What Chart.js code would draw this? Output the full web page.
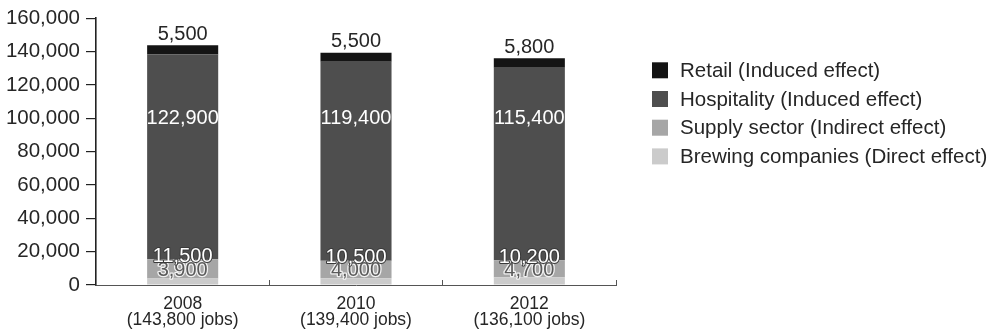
<!DOCTYPE html>
<html>
<head>
<meta charset="utf-8">
<title>Beer sector employment</title>
<script src="https://cdn.jsdelivr.net/npm/chart.js@4.4.1/dist/chart.umd.min.js"></script>
<style>
  html, body { margin: 0; padding: 0; background: #ffffff; }
  #wrap { width: 987px; height: 331px; }
</style>
</head>
<body>
<div id="wrap"><canvas id="jobs" width="987" height="331"></canvas></div>
<script>
// Jobs supported by the brewing sector, by year and source of effect
const years = ['2008', '2010', '2012'];
const brewing = [3900, 4000, 4700];
const supply = [11500, 10500, 10200];
const hospitality = [122900, 119400, 115400];
const retail = [5500, 5500, 5800];

const seriesNames = [
  'Brewing companies (Direct effect)',
  'Supply sector (Indirect effect)',
  'Hospitality (Induced effect)',
  'Retail (Induced effect)'
];
const seriesColors = ['#cbcbcb', '#a6a6a6', '#4e4e4e', '#141414'];

// y axis ticks: 0 to 160,000 in steps of 20,000
const yMin = 0;
const yMax = 160000;
const yStep = 20000;
// hospitality figures sit at this level on every bar
const hospitalityLabelLevel = 100000;

const fmt = n => n.toLocaleString('en-US');
const totals = years.map((_, i) => brewing[i] + supply[i] + hospitality[i] + retail[i]);
const categoryLabels = years.map((y, i) => [y, '(' + fmt(totals[i]) + ' jobs)']);

const FONT = '"Liberation Sans", Arial, Helvetica, sans-serif';
const TEXT = '#262626';

// figures printed on and above each segment
const valueLabels = {
  id: 'valueLabels',
  afterDatasetsDraw(chart) {
    const { ctx } = chart;
    const yScale = chart.scales.y;
    ctx.save();
    ctx.font = '20px ' + FONT;
    ctx.textAlign = 'center';
    ctx.textBaseline = 'middle';
    ctx.lineJoin = 'round';
    chart.data.datasets.forEach((ds, di) => {
      const meta = chart.getDatasetMeta(di);
      meta.data.forEach((bar, i) => {
        const text = fmt(ds.data[i]);
        let ty;
        if (di === 3) {
          ty = bar.y - 11;
          ctx.fillStyle = TEXT;
          ctx.fillText(text, bar.x, ty);
        } else if (di === 2) {
          ty = yScale.getPixelForValue(hospitalityLabelLevel);
          ctx.fillStyle = '#ffffff';
          ctx.fillText(text, bar.x, ty);
        } else if (di === 1) {
          ty = bar.y - 3;
          ctx.lineWidth = 2;
          ctx.strokeStyle = '#3a3a3a';
          ctx.strokeText(text, bar.x, ty);
          ctx.fillStyle = '#ffffff';
          ctx.fillText(text, bar.x, ty);
        } else {
          ty = bar.base - 14;
          ctx.lineWidth = 2.5;
          ctx.strokeStyle = '#f2f2f2';
          ctx.strokeText(text, bar.x, ty);
          ctx.fillStyle = '#5a5a5a';
          ctx.fillText(text, bar.x, ty);
        }
      });
    });
    ctx.restore();
  }
};

// key to the right of the plot, top series first
const sideLegend = {
  id: 'sideLegend',
  afterDraw(chart) {
    const { ctx, chartArea } = chart;
    const x0 = chartArea.right + 36;
    const y0 = chartArea.top + 52;
    const gap = 28.7;
    const box = 16;
    ctx.save();
    ctx.font = '20.5px ' + FONT;
    ctx.textAlign = 'left';
    ctx.textBaseline = 'middle';
    const order = chart.data.datasets.map((_, i) => i).reverse();
    order.forEach((di, k) => {
      const ds = chart.data.datasets[di];
      const cy = y0 + k * gap;
      ctx.fillStyle = ds.backgroundColor;
      ctx.fillRect(x0, cy - box / 2, box, box);
      ctx.fillStyle = TEXT;
      ctx.fillText(ds.label, x0 + box + 12, cy + 1);
    });
    ctx.restore();
  }
};

const datasets = [brewing, supply, hospitality, retail].map((values, i) => ({
  label: seriesNames[i],
  data: values,
  backgroundColor: seriesColors[i],
  borderWidth: 0
}));

new Chart(document.getElementById('jobs'), {
  type: 'bar',
  data: { labels: categoryLabels, datasets },
  options: {
    responsive: false,
    animation: false,
    devicePixelRatio: 1,
    layout: { padding: { left: 0, top: 15, right: 371, bottom: 0 } },
    datasets: { bar: { categoryPercentage: 1, barPercentage: 0.41 } },
    plugins: { legend: { display: false }, tooltip: { enabled: false } },
    scales: {
      x: {
        stacked: true,
        grid: { drawOnChartArea: false, offset: true, tickLength: -5, color: '#555555', lineWidth: 1 },
        border: { color: '#555555', width: 1 },
        ticks: { color: TEXT, padding: 16, font: { family: FONT, size: 17.5, lineHeight: '16px' } },
        afterFit: s => { s.height = 46; }
      },
      y: {
        stacked: true,
        min: yMin,
        max: yMax,
        grid: { drawOnChartArea: false, tickLength: 10, color: '#222222', lineWidth: 1.2 },
        border: { color: '#222222', width: 1.6 },
        ticks: { stepSize: yStep, color: TEXT, padding: 6, font: { family: FONT, size: 20.5 }, callback: v => fmt(v) },
        afterFit: s => { s.width = 96; }
      }
    }
  },
  plugins: [valueLabels, sideLegend]
});
</script>
</body>
</html>
